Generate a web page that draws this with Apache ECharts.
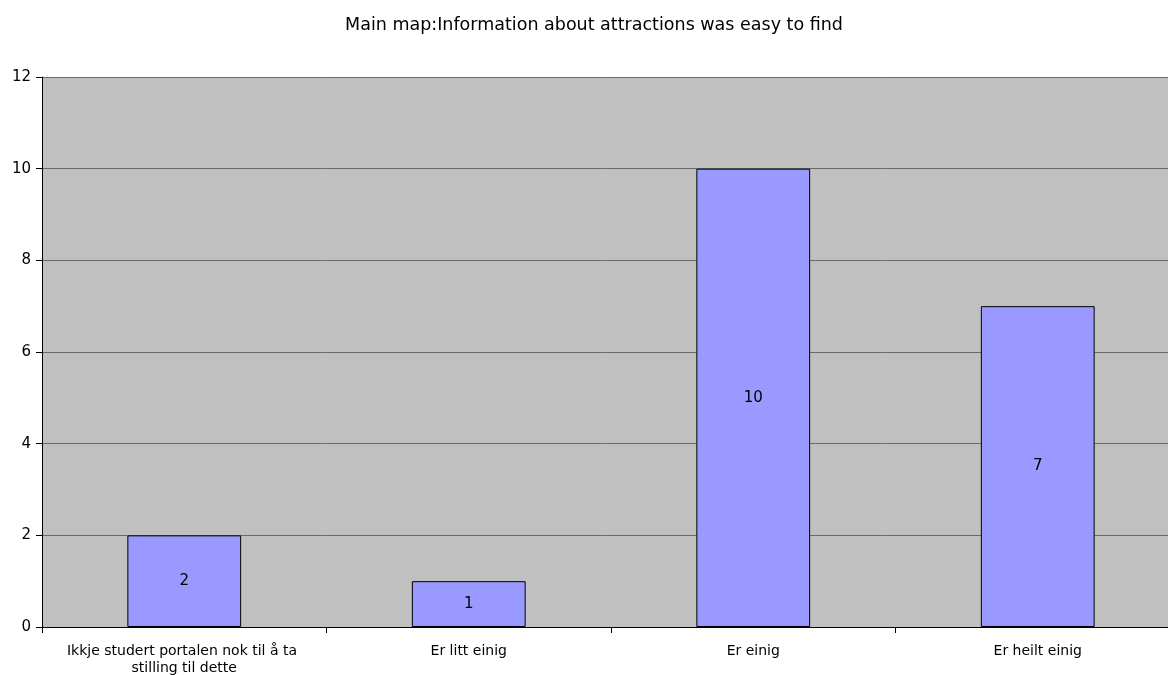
<!DOCTYPE html>
<html>
<head>
<meta charset="utf-8">
<script src="https://cdn.jsdelivr.net/npm/echarts@6/dist/echarts.min.js"></script>
<style>
html,body{margin:0;padding:0;background:#fff;overflow:hidden;}
#chart{width:1168px;height:675px;}
</style>
</head>
<body>
<div id="chart"></div>
<script>
const titleText = 'Main map:Information about attractions was easy to find';
const categories = ['Ikkje studert portalen nok til å ta stilling til dette', 'Er litt einig', 'Er einig', 'Er heilt einig'];
const counts = [2, 1, 10, 7];
const yTicks = { min: 0, max: 12, interval: 2 };

const font = '"DejaVu Sans", "Liberation Sans", Arial, sans-serif';
const chart = echarts.init(document.getElementById('chart'));
chart.setOption({
  animation: false,
  backgroundColor: '#ffffff',
  title: {
    text: titleText,
    left: 589, top: 11,
    textAlign: 'center',
    textStyle: { fontFamily: font, fontSize: 17.5, fontWeight: 'normal', color: '#000' }
  },
  // plot area runs slightly past the right edge of the canvas
  grid: {
    left: 42, width: 1138, top: 77, height: 550,
    outerBoundsMode: 'none',
    containLabel: false,
    show: true, backgroundColor: '#c0c0c0', borderWidth: 0
  },
  xAxis: {
    type: 'category',
    data: categories,
    axisLine: { lineStyle: { color: '#000', width: 1 } },
    axisTick: { show: true, length: 6, alignWithLabel: false, lineStyle: { color: '#000' } },
    axisLabel: {
      interval: 0, margin: 16, fontFamily: font, fontSize: 14, color: '#000',
      width: 260, overflow: 'break', lineHeight: 17
    }
  },
  yAxis: {
    type: 'value',
    min: yTicks.min, max: yTicks.max, interval: yTicks.interval,
    axisLine: { show: true, lineStyle: { color: '#000', width: 1 } },
    axisTick: { show: true, length: 6, lineStyle: { color: '#000' } },
    axisLabel: { margin: 11, fontFamily: font, fontSize: 15, color: '#000' },
    splitLine: { show: true, lineStyle: { color: '#6a6a6a', width: 1 } }
  },
  series: [{
    type: 'bar',
    data: counts,
    barWidth: '40%',
    itemStyle: { color: '#9999ff', borderColor: '#000', borderWidth: 1 },
    label: {
      show: true, position: 'inside',
      fontFamily: font, fontSize: 15, color: '#000'
    }
  }]
});
</script>
</body>
</html>
